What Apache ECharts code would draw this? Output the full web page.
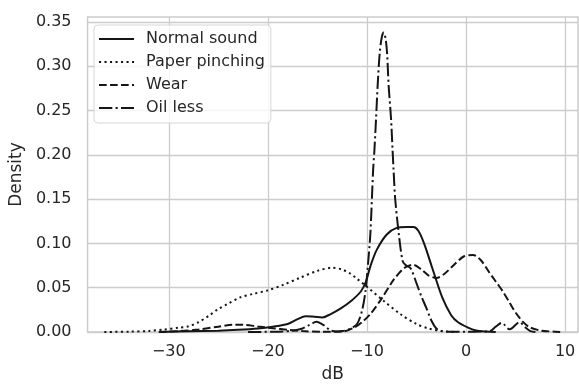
<!DOCTYPE html>
<html>
<head>
<meta charset="utf-8">
<script src="https://cdn.jsdelivr.net/npm/echarts@6/dist/echarts.min.js"></script>
<style>
  html, body { margin: 0; padding: 0; background: #fff; }
  #kde { width: 579px; height: 388px; }
</style>
</head>
<body>
<div id="kde"></div>
<script>
// density curves, [dB, density]
const seriesNames = ["Normal sound", "Paper pinching", "Wear", "Oil less"];

const normalSound = [
  [-31, 0], [-28, 0.0008], [-25, 0.0015], [-23, 0.0025], [-21, 0.004], [-19.5, 0.006],
  [-18, 0.009], [-17, 0.0145], [-16.2, 0.0178], [-15.3, 0.0172], [-14.5, 0.0165],
  [-13.7, 0.02], [-12.6, 0.027], [-11.6, 0.035], [-10.6, 0.046], [-10.1, 0.057],
  [-9.6, 0.076], [-9.0, 0.093], [-8.0, 0.11], [-7.0, 0.1175], [-6.0, 0.1185],
  [-5.3, 0.1185], [-4.8, 0.114], [-4.2, 0.099], [-3.4, 0.072], [-2.4, 0.039],
  [-1.5, 0.019], [-0.8, 0.011], [0.2, 0.005], [1.0, 0.0018], [2.0, 0.0005], [3.0, 0]
];

const paperPinching = [
  [-36.5, 0], [-34, 0.0004], [-32, 0.0012], [-30.5, 0.0028], [-29, 0.0048], [-28, 0.0065],
  [-27, 0.011], [-26, 0.018], [-25, 0.026], [-24, 0.032], [-22.8, 0.039], [-21.5, 0.043],
  [-20, 0.047], [-18.5, 0.053], [-16.8, 0.061], [-15, 0.069], [-13.5, 0.0725],
  [-12.5, 0.0705], [-11.7, 0.066], [-11, 0.06], [-10, 0.051], [-8.3, 0.035],
  [-6.6, 0.02], [-5, 0.009], [-3.8, 0.004], [-2.5, 0.0012], [-1, 0]
];

const wear = [
  [-31, 0], [-29, 0.001], [-27, 0.0028], [-25, 0.006], [-23.5, 0.0083], [-22.5, 0.0082],
  [-21, 0.0062], [-19.5, 0.0042], [-18, 0.0025], [-16.5, 0.001], [-14.5, 0.0003],
  [-12.5, 0.0005], [-11.3, 0.005], [-10.4, 0.012], [-9.6, 0.021], [-8.5, 0.038],
  [-7.3, 0.059], [-6.2, 0.0725], [-5.3, 0.0758], [-4.5, 0.0705], [-3.8, 0.064],
  [-3.0, 0.061], [-2.2, 0.0655], [-1.2, 0.076], [-0.2, 0.0855], [0.7, 0.087],
  [1.5, 0.081], [2.3, 0.068], [3.0, 0.057], [3.7, 0.046], [4.4, 0.033], [5.0, 0.022],
  [5.7, 0.012], [6.4, 0.0055], [7.5, 0.0017], [9.0, 0.0003], [9.5, 0]
];

const oilLess = [
  [-22, 0], [-19, 0.0004], [-17.5, 0.0015], [-16.5, 0.004], [-15.8, 0.008], [-15.1, 0.0115],
  [-14.4, 0.008], [-13.7, 0.002], [-13, 0.0006], [-12.3, 0.0015], [-11.7, 0.0035],
  [-11.0, 0.009], [-10.5, 0.024], [-10.15, 0.046], [-9.9, 0.0755], [-9.65, 0.112],
  [-9.38, 0.182], [-9.25, 0.2045], [-9.08, 0.241], [-8.92, 0.278], [-8.71, 0.315],
  [-8.5, 0.333], [-8.31, 0.338], [-8.12, 0.331], [-7.97, 0.315], [-7.81, 0.278],
  [-7.57, 0.241], [-7.41, 0.2045], [-7.31, 0.182], [-7.14, 0.149], [-6.8, 0.112],
  [-6.4, 0.08], [-6.1, 0.0755], [-5.6, 0.072], [-5.0, 0.055], [-4.5, 0.04], [-4.0, 0.027],
  [-3.5, 0.013], [-3.0, 0.004], [-2.5, 0.0012], [-1.5, 0.0002], [0, 0.0002], [1.5, 0.0005],
  [2.4, 0.001], [3.0, 0.006], [3.6, 0.0102], [4.4, 0.003], [5.4, 0.011], [6.0, 0.005],
  [6.5, 0.001], [7, 0]
];

const xTicks = [-30, -20, -10, 0, 10];
const yTicks = [0, 0.05, 0.1, 0.15, 0.2, 0.25, 0.3, 0.35];

const font = "DejaVu Sans";
const ink = "#262626";
const lineColor = "#151515";

var chartDom = document.getElementById("kde");
var myChart = echarts.init(chartDom, null, { renderer: "canvas" });

const mkLine = (name, data, dash) => ({
  name: name,
  type: "line",
  data: data,
  showSymbol: false,
  symbol: "circle",
  smooth: 0.3,
  clip: true,
  lineStyle: { color: lineColor, width: 2, type: dash, cap: "butt" },
  itemStyle: { color: lineColor },
});

var option = {
  animation: false,
  grid: {
    left: 86,
    right: 1,
    top: 17,
    bottom: 50,
    show: true,
    borderColor: "#cccccc",
    borderWidth: 1.5,
  },
  legend: {
    data: seriesNames,
    orient: "vertical",
    left: 94,
    top: 25,
    padding: [6, 6, 7, 4],
    itemWidth: 35,
    itemHeight: 14,
    itemGap: 7,
    itemStyle: { opacity: 0 },
    backgroundColor: "rgba(255,255,255,0.8)",
    borderColor: "#d6d6d6",
    borderWidth: 1,
    borderRadius: 4,
    textStyle: { fontFamily: font, fontSize: 16, color: ink, padding: [0, 0, 0, 7] },
  },
  xAxis: {
    type: "value",
    min: -38.2,
    max: 11.3,
    name: "dB",
    nameLocation: "middle",
    nameGap: 34,
    nameTextStyle: { fontFamily: font, fontSize: 17, color: ink },
    axisLine: { show: false },
    axisTick: { show: false, customValues: xTicks },
    axisLabel: {
      customValues: xTicks,
      margin: 12,
      fontFamily: font,
      fontSize: 16,
      color: ink,
      formatter: (v) => String(v).replace("-", "\u2212"),
    },
    splitLine: { show: true, lineStyle: { color: "#cccccc", width: 1.3 } },
  },
  yAxis: {
    type: "value",
    min: 0,
    max: 0.3555,
    name: "Density",
    nameLocation: "middle",
    nameGap: 59,
    nameTextStyle: { fontFamily: font, fontSize: 17, color: ink },
    axisLine: { show: false },
    axisTick: { show: false, customValues: yTicks },
    axisLabel: {
      customValues: yTicks,
      margin: 16,
      fontFamily: font,
      fontSize: 16,
      color: ink,
      formatter: (v) => v.toFixed(2),
    },
    splitLine: { show: true, lineStyle: { color: "#cccccc", width: 1.3 } },
  },
  series: [
    mkLine(seriesNames[0], normalSound, "solid"),
    mkLine(seriesNames[1], paperPinching, [2.1, 3.4]),
    mkLine(seriesNames[2], wear, [7.7, 3.3]),
    mkLine(seriesNames[3], oilLess, [13.3, 3.3, 2.1, 3.3]),
  ],
};

option && myChart.setOption(option);
</script>
</body>
</html>
